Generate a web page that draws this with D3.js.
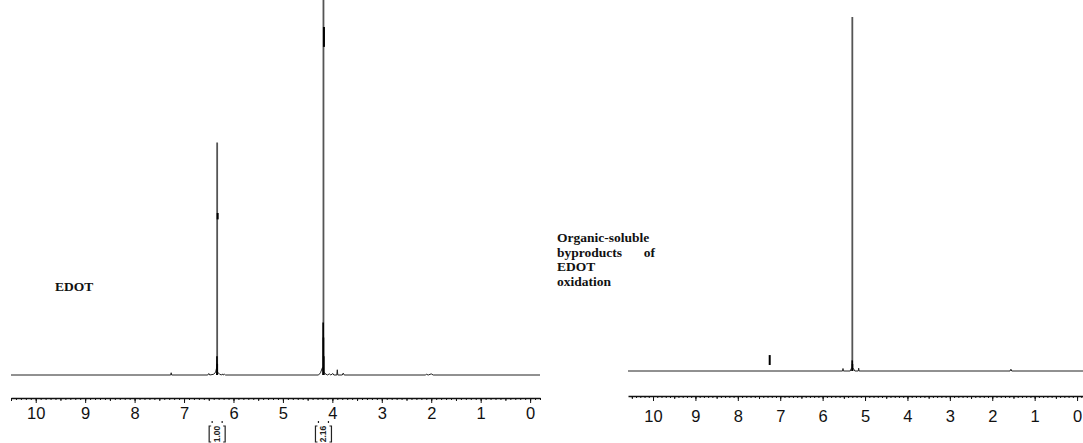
<!DOCTYPE html>
<html lang="en">
  <head>
    <meta charset="utf-8">
    <title>1H NMR - EDOT and oxidation byproducts</title>
    <script src="https://cdn.jsdelivr.net/npm/d3@7/dist/d3.min.js"></script>
    <style>
      body { margin: 0; background: #fff; }
      svg { display: block; }
      .axis text { font-family: "Liberation Sans", Arial, sans-serif; font-size: 16.5px; fill: #111; }
      .axis path, .axis line { stroke: #111; }
      .label { font-family: "Liberation Serif", "Times New Roman", serif; font-weight: bold; font-size: 13.5px; fill: #111; }
    </style>
  </head>
  <body>
    <div class="chart"></div>
    <script>
      // chemical shift tick labels (ppm)
      var ppmTicks = [10, 9, 8, 7, 6, 5, 4, 3, 2, 1, 0];

      // ---- left spectrum: EDOT ----
      var edotPeaks = [{ppm: 6.33, h: 0.62}, {ppm: 4.18, h: 1.05}];
      var edotMultiplets = [
        {ppm: 6.334, h: 0.05}, {ppm: 6.328, h: 0.03},
        {ppm: 4.186, h: 0.14}, {ppm: 4.180, h: 0.10}, {ppm: 4.174, h: 0.05}
      ];
      var edotTrace = [
        [10.5, 0], [7.27, 0], [7.26, 0.006], [7.25, 0],
        [6.52, 0], [6.50, 0.004], [6.48, 0], [6.40, 0.002], [6.36, 0.008], [6.34, 0.02],
        [6.33, 0.01], [6.31, 0.006], [6.28, 0.002], [6.24, 0], [6.22, 0.003], [6.21, 0],
        [6.18, 0.002], [6.16, 0], [4.28, 0], [4.24, 0.006], [4.20, 0.02], [4.18, 0.01],
        [4.15, 0.004], [4.10, 0], [4.06, 0.003], [4.03, 0], [3.99, 0.004], [3.97, 0],
        [3.91, 0], [3.90, 0.014], [3.89, 0], [3.80, 0], [3.78, 0.005], [3.76, 0],
        [2.12, 0], [2.10, 0.002], [2.06, 0], [2.00, 0.003], [1.96, 0], [-0.2, 0]
      ];
      var edotIntegrals = [
        {ppm: 6.33, from: 0.415, to: 0.432, label: "1.00"},
        {ppm: 4.18, from: 0.875, to: 0.928, label: "2.16"}
      ];

      // ---- right spectrum: organic-soluble byproducts ----
      var byprodPeaks = [{ppm: 5.30, h: 1.0}];
      var byprodMultiplets = [{ppm: 5.302, h: 0.03}, {ppm: 5.296, h: 0.02}];
      var byprodTrace = [
        [10.59, 0], [5.53, 0], [5.52, 0.007], [5.51, 0], [5.35, 0], [5.32, 0.008],
        [5.30, 0.01], [5.27, 0.006], [5.24, 0], [5.16, 0], [5.15, 0.008], [5.14, 0],
        [1.58, 0], [1.56, 0.005], [1.54, 0], [-0.14, 0]
      ];
      var byprodIntegrals = [{ppm: 7.26, from: 0.017, to: 0.045, label: ""}];

      var width = 1083, height = 443;

      var svg = d3.select(".chart")
        .append("svg")
          .attr("width", width)
          .attr("height", height);

      var panels = [
        {domain: [10.5, -0.2], xr: [11, 540], base: 375, top: 0, axisY: 398, pad: 4,
         peaks: edotPeaks, multiplets: edotMultiplets, trace: edotTrace, integrals: edotIntegrals},
        {domain: [10.59, -0.14], xr: [628, 1083], base: 371, top: 17, axisY: 396, pad: 9,
         peaks: byprodPeaks, multiplets: byprodMultiplets, trace: byprodTrace, integrals: byprodIntegrals}
      ];

      panels.forEach(function(p, i) {
        var x = d3.scaleLinear().domain(p.domain).range(p.xr);
        var y = d3.scaleLinear().domain([0, 1]).range([p.base, p.top]);
        var g = svg.append("g").attr("class", "panel" + i);

        // minor ticks every 0.1 ppm
        var minor = d3.range(Math.ceil(p.domain[1] * 10), Math.floor(p.domain[0] * 10) + 1)
          .map(function(d) { return d / 10; });
        var half = minor.filter(function(d) { return Math.abs(d * 2 - Math.round(d * 2)) < 1e-6; });

        g.append("g")
          .attr("class", "axis")
          .attr("transform", "translate(0," + p.axisY + ")")
          .call(d3.axisBottom(x).tickValues(minor).tickSize(2).tickSizeOuter(0).tickFormat(""));
        g.append("g")
          .attr("class", "axis")
          .attr("transform", "translate(0," + p.axisY + ")")
          .call(d3.axisBottom(x).tickValues(half).tickSize(3).tickSizeOuter(0).tickFormat(""))
          .select(".domain").remove();
        g.append("g")
          .attr("class", "axis")
          .attr("transform", "translate(0," + p.axisY + ")")
          .call(d3.axisBottom(x).tickValues(ppmTicks).tickSize(5).tickPadding(p.pad).tickSizeOuter(0).tickFormat(d3.format("d")))
          .select(".domain").remove();
        g.selectAll(".axis .domain").attr("stroke-width", 1.3);

        // baseline trace with small signals
        var line = d3.line()
          .x(function(d) { return x(d[0]); })
          .y(function(d) { return y(d[1]); });
        g.append("path")
          .datum(p.trace)
          .attr("fill", "none")
          .attr("stroke", "#222")
          .attr("stroke-width", 1)
          .attr("d", line);

        // main peaks
        g.selectAll(".peak")
          .data(p.peaks)
          .enter().append("line")
            .attr("class", "peak")
            .attr("x1", function(d) { return x(d.ppm); })
            .attr("x2", function(d) { return x(d.ppm); })
            .attr("y1", y(0))
            .attr("y2", function(d) { return y(d.h); })
            .attr("stroke", "#555")
            .attr("stroke-width", 1.8);

        // dense multiplet bottoms
        g.selectAll(".mult")
          .data(p.multiplets)
          .enter().append("line")
            .attr("class", "mult")
            .attr("x1", function(d) { return x(d.ppm); })
            .attr("x2", function(d) { return x(d.ppm); })
            .attr("y1", y(0))
            .attr("y2", function(d) { return y(d.h); })
            .attr("stroke", "#000")
            .attr("stroke-width", 1.6);

        // integral marks
        g.selectAll(".integral")
          .data(p.integrals)
          .enter().append("line")
            .attr("class", "integral")
            .attr("x1", function(d) { return x(d.ppm) + 0.5; })
            .attr("x2", function(d) { return x(d.ppm) + 0.5; })
            .attr("y1", function(d) { return y(d.from); })
            .attr("y2", function(d) { return y(d.to); })
            .attr("stroke", "#000")
            .attr("stroke-width", 2);

        // integral values under the axis
        var lab = g.selectAll(".intlab")
          .data(p.integrals.filter(function(d) { return d.label; }))
          .enter().append("g")
            .attr("class", "intlab")
            .attr("transform", function(d) { return "translate(" + x(d.ppm) + ",0)"; });
        lab.append("path")
          .attr("d", "M-5,421v2 M5,421v2 M-6,426h-2v16h2 M6,426h2v16h-2")
          .attr("fill", "none")
          .attr("stroke", "#222")
          .attr("stroke-width", 1.2);
        lab.append("text")
          .attr("transform", "translate(3,434) rotate(-90)")
          .attr("text-anchor", "middle")
          .style("font-family", "'Liberation Sans', Arial, sans-serif")
          .style("font-size", "8.5px")
          .style("font-weight", "bold")
          .attr("fill", "#222")
          .text(function(d) { return d.label; });
      });

      // annotations
      svg.append("text").attr("class", "label").attr("x", 55).attr("y", 291)
        .style("font-size", "13.5px").text("EDOT");

      var note = [["Organic-soluble", ""], ["byproducts", "of"], ["EDOT", ""], ["oxidation", ""]];
      note.forEach(function(r, i) {
        svg.append("text").attr("class", "label").attr("x", 557).attr("y", 242 + i * 14.5).text(r[0]);
        if (r[1]) svg.append("text").attr("class", "label").attr("x", 655).attr("y", 242 + i * 14.5)
          .attr("text-anchor", "end").text(r[1]);
      });
    </script>
  </body>
</html>
